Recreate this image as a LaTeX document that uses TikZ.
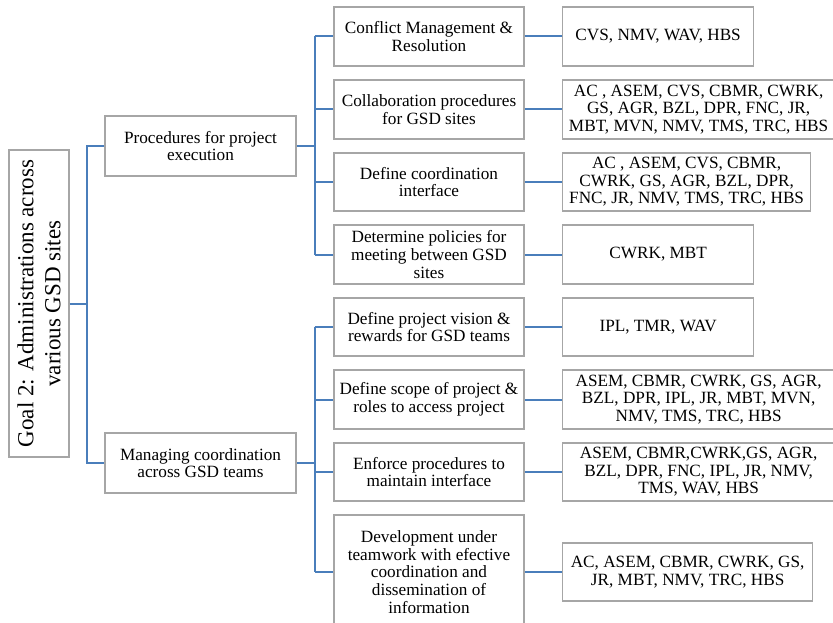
\documentclass[tikz,border=0pt]{standalone}
\usepackage{fontspec}
\setmainfont{Liberation Serif}
\usepackage{xcolor}
\usetikzlibrary{positioning,calc}
\definecolor{LinkBlue}{HTML}{4A7EBB}
\definecolor{BoxGrey}{HTML}{A6A6A6}

\begin{document}
\begin{tikzpicture}[x=1pt,y=-1pt,
    every node/.style={font=\fontsize{17.2}{17.6}\selectfont},
    box/.style={draw=BoxGrey, line width=1.3pt, fill=white, align=center, inner sep=0.5pt},
    link/.style={draw=LinkBlue, line width=2pt}]
  \useasboundingbox (0,0) rectangle (833,623);
  \node[box, rotate=90, minimum width=307, minimum height=60,
    font=\fontsize{23}{27}\selectfont] (goal) at (39,303.5)
    {Goal 2: Administrations across\\various GSD sites};
  \node[box, minimum width=191, minimum height=60] (proc) at (200.5,146)
    {Procedures for project\\execution};
  \node[box, minimum width=191, minimum height=60] (coord) at (200.5,463)
    {Managing coordination\\across GSD teams};
  \foreach \i/\yy/\h/\t/\w/\lh/\l in {
    1/36.5/59/{Conflict Management \&\\Resolution}/191/59/{CVS, NMV, WAV, HBS},
    2/109.5/59/{Collaboration procedures\\for GSD sites}/272/59/{AC , ASEM, CVS, CBMR, CWRK,\\GS, AGR, BZL, DPR, FNC, JR,\\MBT, MVN, NMV, TMS, TRC, HBS},
    3/182/58/{Define coordination\\interface}/248/58/{AC , ASEM, CVS, CBMR,\\CWRK, GS, AGR, BZL, DPR,\\FNC, JR, NMV, TMS, TRC, HBS},
    4/254.5/59/{Determine policies for\\meeting between GSD\\sites}/191/59/{CWRK, MBT},
    5/327/58/{Define project vision \&\\rewards for GSD teams}/191/58/{IPL, TMR, WAV},
    6/399.5/59/{Define scope of project \&\\roles to access project}/272/59/{ASEM, CBMR, CWRK, GS, AGR,\\BZL, DPR, IPL, JR, MBT, MVN,\\NMV, TMS, TRC, HBS},
    7/472/58/{Enforce procedures to\\maintain interface}/272/58/{ASEM, CBMR,CWRK,GS, AGR,\\BZL, DPR, FNC, IPL, JR, NMV,\\TMS, WAV, HBS},
    8/572/114/{Development under\\teamwork with efective\\coordination and\\dissemination of\\information}/250/58/{AC, ASEM, CBMR, CWRK, GS,\\JR, MBT, NMV, TRC, HBS}%
  }{
    \node[box, minimum width=190, minimum height=\h] (s\i) at (429,\yy) {\t};
    \node[box, anchor=west, minimum width=\w, minimum height=\lh] (l\i) at (562,\yy) {\l};
    \draw[link] (s\i.east) -- (l\i.west);
  }
  \coordinate[right=17pt of goal.south] (jr);
  \coordinate[right=18pt of proc.east] (jp);
  \coordinate[right=18pt of coord.east] (jc);
  \draw[link] (goal.south) -- (jr);
  \draw[link] (proc.west) -| (jr) |- (coord.west);
  \draw[link] (proc.east) -- (jp);
  \draw[link] (coord.east) -- (jc);
  \draw[link] (jp |- s1) -- (jp |- s4);
  \draw[link] (jc |- s5) -- (jc |- s8);
  \foreach \i in {1,...,4}{
    \draw[link] (jp |- s\i) -- (s\i.west);
  }
  \foreach \i in {5,...,8}{
    \draw[link] (jc |- s\i) -- (s\i.west);
  }
\end{tikzpicture}
\end{document}
